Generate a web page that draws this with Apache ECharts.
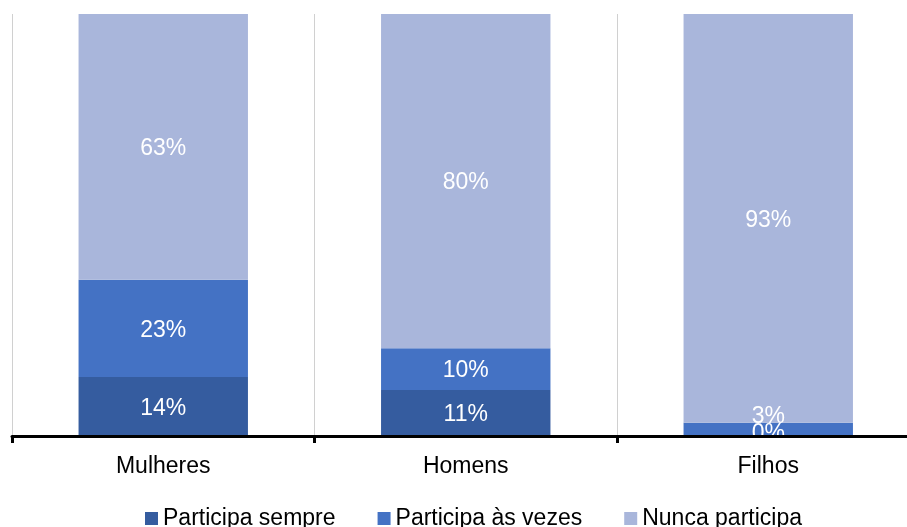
<!DOCTYPE html>
<html>
<head>
<meta charset="utf-8">
<script src="https://cdn.jsdelivr.net/npm/echarts@6/dist/echarts.min.js"></script>
<style>
  html, body { margin: 0; padding: 0; background: #ffffff; }
  #chart { width: 907px; height: 527px; }
</style>
</head>
<body>
<div id="chart"></div>
<script>
// Categories and shares (%) for each level of participation
var categories = ['Mulheres', 'Homens', 'Filhos'];
var seriesNames = ['Participa sempre', 'Participa às vezes', 'Nunca participa'];
var sempre = [14, 11, 0];
var asVezes = [23, 10, 3];
var nunca = [63, 80, 93];

var colors = ['#355c9f', '#4472c4', '#a9b6db'];
var FONT = 'Liberation Sans, Arial, sans-serif';

// Each column is drawn as a 100% stack of its three shares
var raw = [sempre, asVezes, nunca];
var totals = categories.map(function (_, i) {
  return sempre[i] + asVezes[i] + nunca[i];
});

// Nudge the two crowded labels at the foot of the last column apart
function labelShift(s, i) {
  if (i === 2 && s === 0) return [0, -2];
  if (i === 2 && s === 1) return [0, -13];
  return [0, 2];
}

var series = raw.map(function (vals, s) {
  return {
    name: seriesNames[s],
    type: 'bar',
    stack: 'total',
    barWidth: '56%',
    itemStyle: { color: colors[s] },
    label: {
      show: true,
      position: 'inside',
      color: '#ffffff',
      fontFamily: FONT,
      fontSize: 23,
      formatter: function (p) { return vals[p.dataIndex] + '%'; }
    },
    data: vals.map(function (v, i) {
      return {
        value: v / totals[i] * 100,
        label: { offset: labelShift(s, i) }
      };
    })
  };
});

var chart = echarts.init(document.getElementById('chart'), null, { renderer: 'canvas' });
chart.setOption({
  animation: false,
  color: colors,
  // the last column runs past the right edge of the canvas
  grid: { left: 12, right: -12.5, top: 14, bottom: 91, containLabel: false, outerBoundsMode: 'none' },
  legend: {
    data: seriesNames,
    left: 140,
    top: 502,
    icon: 'rect',
    itemWidth: 13,
    itemHeight: 13,
    itemGap: 42,
    textStyle: { fontFamily: FONT, fontSize: 23, color: '#000000', padding: [0, 0, 0, 0] }
  },
  xAxis: {
    type: 'category',
    data: categories,
    z: 10,
    axisLine: { show: true, lineStyle: { color: '#000000', width: 3 } },
    axisTick: { show: true, length: 7, lineStyle: { color: '#000000', width: 3 } },
    axisLabel: { color: '#000000', fontFamily: FONT, fontSize: 23, margin: 19 },
    splitLine: { show: true, lineStyle: { color: '#d0d0d0', width: 1 } }
  },
  yAxis: {
    type: 'value',
    min: 0,
    max: 100,
    show: false,
    splitLine: { show: false }
  },
  series: series
});
</script>
</body>
</html>
